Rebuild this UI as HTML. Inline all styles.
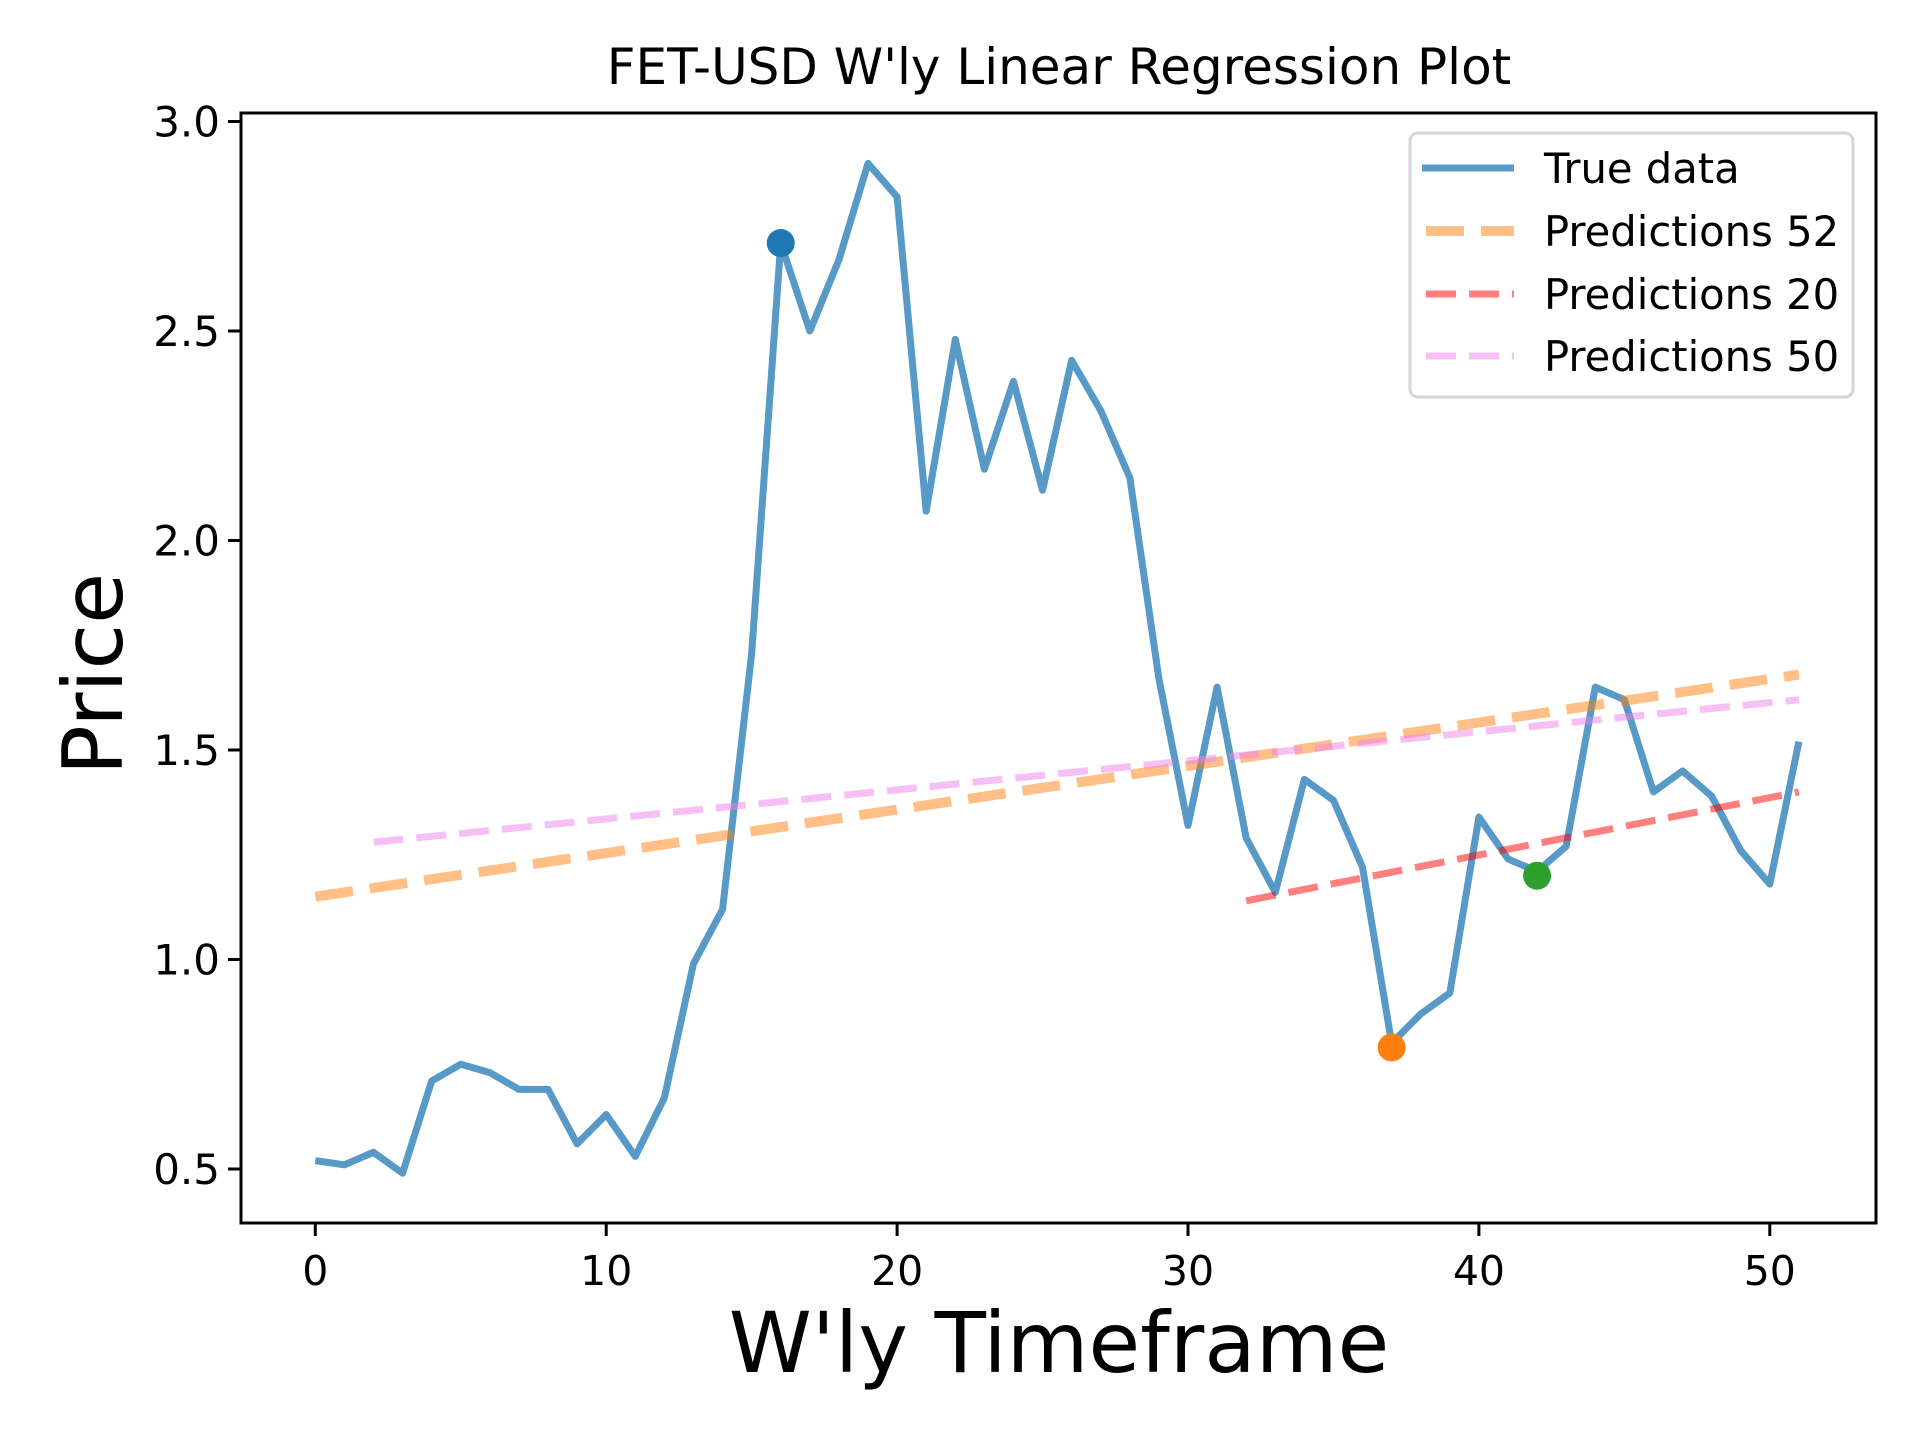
<!DOCTYPE html>
<html><head><meta charset="utf-8"><style>
html,body{margin:0;padding:0;background:#fff;}
svg{display:block;font-family:"DejaVu Sans","Liberation Sans",sans-serif;}
</style></head><body>
<svg id="chart" width="1920" height="1440" viewBox="0 0 1920 1440" xmlns="http://www.w3.org/2000/svg">
<rect width="1920" height="1440" fill="#fff"/>
<text x="1059" y="84" font-size="50" text-anchor="middle">FET-USD W'ly Linear Regression Plot</text>
<text x="1059" y="1372" font-size="84" text-anchor="middle">W'ly Timeframe</text>
<text transform="translate(122,674) rotate(-90)" font-size="83" text-anchor="middle">Price</text>
<g id="plot"></g>
<rect x="241" y="113" width="1635" height="1110" fill="none" stroke="#000" stroke-width="3"/>
<g id="legend">
<rect x="1410" y="133" width="443" height="264" rx="8" fill="#fff" fill-opacity="0.8" stroke="#d6d6d6" stroke-width="3"/>
<line x1="1422" y1="168" x2="1514" y2="168" stroke="#1f77b4" stroke-opacity="0.75" stroke-width="7"/>
<text x="1544" y="183" font-size="41.7">True data</text>
<line x1="1426" y1="231" x2="1514" y2="231" stroke="#ff7f0e" stroke-opacity="0.5" stroke-width="10" stroke-dasharray="38,17"/>
<text x="1544" y="246" font-size="41.7">Predictions 52</text>
<line x1="1426" y1="294" x2="1514" y2="294" stroke="#ff0000" stroke-opacity="0.5" stroke-width="7" stroke-dasharray="30,13"/>
<text x="1544" y="309" font-size="41.7">Predictions 20</text>
<line x1="1426" y1="356" x2="1514" y2="356" stroke="#ee82ee" stroke-opacity="0.5" stroke-width="7" stroke-dasharray="30,13"/>
<text x="1544" y="371" font-size="41.7">Predictions 50</text>
</g>
</svg>
<script>
const trueValues=[0.52,0.51,0.54,0.49,0.71,0.75,0.73,0.69,0.69,0.56,0.63,0.53,0.67,0.99,1.12,1.73,2.71,2.50,2.67,2.90,2.82,2.07,2.48,2.17,2.38,2.12,2.43,2.31,2.15,1.67,1.32,1.65,1.29,1.16,1.43,1.38,1.22,0.80,0.87,0.92,1.34,1.24,1.21,1.27,1.65,1.62,1.40,1.45,1.39,1.26,1.18,1.52];
const pred52X=[0,51], pred52Y=[1.15,1.68];
const pred20X=[32,51], pred20Y=[1.14,1.40];
const pred50X=[2,51], pred50Y=[1.28,1.62];
const markerX=[16,37,42], markerY=[2.71,0.79,1.20], markerColors=['#1f77b4','#ff7f0e','#2ca02c'];
const xTicks=[0,10,20,30,40,50];
const yTicks=[0.5,1.0,1.5,2.0,2.5,3.0];
const yTickLabels=['0.5','1.0','1.5','2.0','2.5','3.0'];

const NS='http://www.w3.org/2000/svg';
const X=v=>315.3+v*29.09;
const Y=v=>1169-(v-0.5)*419;
const plot=document.getElementById('plot');
function mk(tag,attrs){const e=document.createElementNS(NS,tag);for(const k in attrs)e.setAttribute(k,attrs[k]);plot.appendChild(e);return e;}

xTicks.forEach(t=>{
  const l=mk('line',{x1:X(t),x2:X(t),y1:1223,y2:1236,stroke:'#000','stroke-width':3});
  
  
  const tx=mk('text',{x:X(t),y:1285,'font-size':41,'text-anchor':'middle'});
  tx.textContent=t;
  
  
});
yTicks.forEach((t,i)=>{
  const l=mk('line',{x1:228,x2:241,y1:Y(t),y2:Y(t),stroke:'#000','stroke-width':3});
  
  
  const tx=mk('text',{x:220,y:Y(t)+15,'font-size':42,'text-anchor':'end'});
  tx.textContent=yTickLabels[i];
  
  
});

const tl=mk('polyline',{points:trueValues.map((v,i)=>X(i)+','+Y(v)).join(' '),fill:'none',stroke:'#1f77b4','stroke-opacity':0.75,'stroke-width':7,'stroke-linejoin':'round'});



const p52=mk('line',{x1:X(pred52X[0]),y1:Y(pred52Y[0]),x2:X(pred52X[1]),y2:Y(pred52Y[1]),stroke:'#ff7f0e','stroke-opacity':0.5,'stroke-width':10,'stroke-dasharray':'38,17'});


const p20=mk('line',{x1:X(pred20X[0]),y1:Y(pred20Y[0]),x2:X(pred20X[1]),y2:Y(pred20Y[1]),stroke:'#ff0000','stroke-opacity':0.5,'stroke-width':7,'stroke-dasharray':'30,13'});


const p50=mk('line',{x1:X(pred50X[0]),y1:Y(pred50Y[0]),x2:X(pred50X[1]),y2:Y(pred50Y[1]),stroke:'#ee82ee','stroke-opacity':0.5,'stroke-width':7,'stroke-dasharray':'30,13'});



markerX.forEach((x,i)=>{
  const c=mk('circle',{cx:X(x),cy:Y(markerY[i]),r:14,fill:markerColors[i]});
  
  
});
</script>
</body></html>
